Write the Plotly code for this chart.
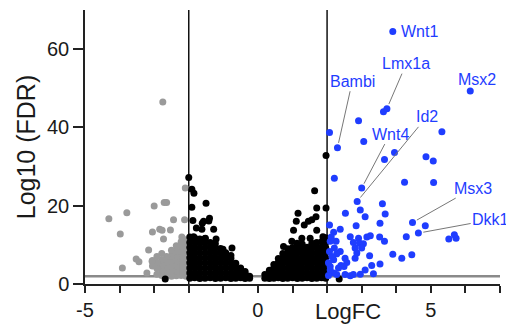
import plotly.graph_objects as go

# ---------------- data ----------------
# non-significant genes (black)
ns_x = [
    # left wedge
    -1.97,-1.97,-1.97,-1.97,-1.97,-1.97,-1.97,-1.97,-1.97,
    -1.83,-1.83,-1.83,-1.83,-1.83,-1.83,-1.83,-1.83,-1.83,
    -1.68,-1.68,-1.68,-1.68,-1.68,-1.68,-1.68,-1.68,-1.68,
    -1.53,-1.53,-1.53,-1.53,-1.53,-1.53,-1.53,-1.53,-1.53,
    -1.38,-1.38,-1.38,-1.38,-1.38,-1.38,-1.38,-1.38,
    -1.23,-1.23,-1.23,-1.23,-1.23,-1.23,-1.23,-1.23,
    -1.08,-1.08,-1.08,-1.08,-1.08,-1.08,-1.08,
    -0.93,-0.93,-0.93,-0.93,-0.93,-0.93,
    -0.78,-0.78,-0.78,-0.78,-0.78,-0.78,
    -0.64,-0.64,-0.64,-0.64,
    -0.50,-0.50,-0.50,
    -0.37,-0.37,-0.37,
    -0.24,-0.24,
    # left outliers
    -2.00,-1.91,-1.85,-1.50,-1.91,-1.88,-1.61,-1.57,-1.40,-1.42,-1.78,-1.62,-1.28,
    -1.86,-1.52,-1.21,-1.01,-0.75,-2.68,
    # right wedge
    0.20,0.20,
    0.33,0.33,0.33,
    0.46,0.46,0.46,0.46,
    0.59,0.59,0.59,0.59,0.59,
    0.72,0.72,0.72,0.72,0.72,0.72,
    0.86,0.86,0.86,0.86,0.86,0.86,0.86,
    1.00,1.00,1.00,1.00,1.00,1.00,1.00,
    1.14,1.14,1.14,1.14,1.14,1.14,1.14,
    1.28,1.28,1.28,1.28,1.28,1.28,1.28,1.28,
    1.42,1.42,1.42,1.42,1.42,1.42,1.42,
    1.56,1.56,1.56,1.56,1.56,1.56,1.56,1.56,
    1.70,1.70,1.70,1.70,1.70,1.70,1.70,1.70,
    1.84,1.84,1.84,1.84,1.84,1.84,1.84,1.84,
    1.96,1.96,1.96,1.96,1.96,1.96,1.96,1.96,1.96,
    # right outliers
    1.97,1.64,1.97,1.16,1.70,1.68,1.56,1.46,1.34,1.11,1.03,1.70,1.27,1.51,1.88,
    0.98,1.13,0.74,2.35,
]
ns_y = [
    1.5,2.8,4.1,5.4,6.7,8.0,9.3,10.6,12.0,
    1.6,2.9,4.2,5.5,6.8,8.1,9.4,10.7,11.8,
    1.4,2.7,4.0,5.3,6.6,7.9,9.2,10.5,11.5,
    1.5,2.8,4.1,5.4,6.7,8.0,9.3,10.6,11.6,
    1.6,2.9,4.2,5.5,6.8,8.1,9.4,10.6,
    1.4,2.7,4.0,5.3,6.6,7.9,9.2,10.3,
    1.5,2.8,4.1,5.4,6.7,8.0,9.1,
    1.6,2.9,4.2,5.5,6.8,8.0,
    1.4,2.7,4.0,5.3,6.5,7.3,
    1.5,2.8,4.1,5.3,
    1.6,2.9,4.1,
    1.4,2.6,3.2,
    1.5,2.0,
    27.2,24.2,23.2,20.6,19.6,16.2,15.5,16.0,16.8,16.1,14.3,14.0,14.0,
    12.1,11.7,11.5,8.9,9.2,1.3,
    1.5,2.4,
    1.4,2.7,3.5,
    1.5,2.8,4.1,5.0,
    1.6,2.9,4.2,5.5,6.5,
    1.4,2.7,4.0,5.3,6.6,7.8,
    1.5,2.8,4.1,5.4,6.7,8.0,9.0,
    1.6,2.9,4.2,5.5,6.8,8.1,9.3,
    1.4,2.7,4.0,5.3,6.6,7.9,9.2,
    1.5,2.8,4.1,5.4,6.7,8.0,9.3,10.2,
    1.6,2.9,4.2,5.5,6.8,8.1,9.4,
    1.4,2.7,4.0,5.3,6.6,7.9,9.2,10.4,
    1.5,2.8,4.1,5.4,6.7,8.0,9.3,10.6,
    1.6,2.9,4.2,5.5,6.8,8.1,9.4,10.8,
    1.5,2.8,4.1,5.4,6.7,8.0,9.3,10.6,11.8,
    32.8,23.8,19.4,18.1,19.4,17.2,16.4,16.0,15.1,16.0,13.7,13.7,11.7,11.7,12.1,
    10.9,10.4,9.6,1.3,
]

# down-regulated genes (grey)
down_x = [
    -2.75,-2.10,-3.00,-2.71,-2.64,-3.79,-4.31,-2.44,-2.12,-3.98,-3.05,-2.84,-2.77,-2.53,
    -2.20,-2.10,-2.73,-3.16,-3.52,-3.44,-3.92,-3.21,-3.06,
    -2.08,-2.08,-2.08,-2.08,-2.08,-2.08,-2.08,-2.08,
    -2.22,-2.22,-2.22,-2.22,-2.22,-2.22,-2.22,-2.22,
    -2.36,-2.36,-2.36,-2.36,-2.36,-2.36,-2.36,
    -2.50,-2.50,-2.50,-2.50,-2.50,-2.50,
    -2.64,-2.64,-2.64,-2.64,-2.64,
    -2.78,-2.78,-2.78,-2.78,-2.78,
    -2.92,-2.92,-2.92,-2.92,
    -3.05,-3.05,
]
down_y = [
    46.5,24.5,19.9,20.8,20.8,18.2,16.7,16.4,16.4,12.8,13.3,14.0,13.7,13.8,
    12.0,11.3,11.5,8.7,6.4,5.7,4.1,2.8,5.8,
    2.0,3.3,4.6,5.9,7.2,8.5,9.8,11.0,
    2.2,3.1,4.4,5.7,7.0,8.3,9.6,10.8,
    2.1,3.2,4.5,5.8,7.1,8.4,9.8,
    2.0,3.3,4.6,5.9,7.2,8.6,
    2.3,3.1,4.4,5.7,7.0,
    2.2,3.5,4.8,6.2,7.8,
    2.5,4.0,5.5,7.0,
    4.6,6.0,
]

# up-regulated genes (blue)
up_x = [
    3.63,2.91,2.07,5.32,3.06,3.95,3.66,4.86,5.07,2.21,4.24,5.08,2.96,3.60,2.53,3.10,3.68,
    4.84,4.29,5.68,5.73,5.52,3.90,4.16,4.45,2.84,2.07,3.53,2.38,2.19,2.67,2.91,3.15,3.25,
    3.52,3.66,2.26,2.76,2.94,3.05,2.09,2.81,3.00,2.38,2.28,3.23,2.81,2.86,2.52,2.57,3.53,
    2.19,2.09,2.40,2.49,3.10,3.29,3.34,2.96,2.52,2.67,2.76,2.28,2.19,2.09,2.14,2.21,2.07,
    2.33,2.04,2.04,2.12,
]
up_y = [
    44.0,41.7,38.7,38.9,36.4,33.6,31.8,32.5,31.4,27.0,26.0,25.9,18.9,20.5,18.1,17.2,17.9,
    14.9,12.1,12.6,11.7,11.5,7.6,6.6,7.5,14.9,15.1,15.5,14.0,13.2,12.1,11.7,12.0,12.3,
    12.0,10.9,10.9,10.6,10.4,10.3,10.9,9.2,9.2,8.3,7.7,7.2,6.6,7.9,6.6,5.5,5.1,
    6.2,4.5,4.7,4.5,3.6,4.7,2.6,2.5,2.4,2.1,2.4,2.4,2.8,3.6,7.0,9.2,8.3,
    4.1,5.4,2.2,12.0,
]

# labelled genes
gene_names = ["Wnt1", "Msx2", "Lmx1a", "Bambi", "Id2", "Wnt4", "Msx3", "Dkk1"]
gene_x = [3.90, 6.14, 3.73, 2.30, 2.87, 3.00, 4.47, 4.64]
gene_y = [64.5, 49.3, 44.8, 34.8, 21.1, 24.5, 15.7, 13.0]
label_x = [4.08, 6.33, 4.29, 2.73, 4.88, 3.82, 6.23, 6.73]
label_y = [64.5, 52.3, 56.3, 51.8, 42.7, 38.3, 24.5, 16.4]
leader = [False, False, True, True, True, True, True, True]

x_ticks = [-5, 0, 5]
y_ticks = [0, 20, 40, 60]
fc_cut = 2
fdr_cut = 2

BLUE = "#1f3dff"
GREY = "#9a9a9a"
FONT = "Liberation Sans, Arial, sans-serif"

fig = go.Figure()
fig.add_trace(go.Scatter(x=down_x, y=down_y, mode="markers",
                         marker=dict(color=GREY, size=7), hoverinfo="skip"))
fig.add_trace(go.Scatter(x=ns_x, y=ns_y, mode="markers",
                         marker=dict(color="black", size=7), hoverinfo="skip"))
fig.add_trace(go.Scatter(x=up_x + gene_x, y=up_y + gene_y, mode="markers",
                         marker=dict(color=BLUE, size=7), hoverinfo="skip"))

# threshold lines
fig.add_shape(type="line", xref="x", yref="y", x0=-5, x1=7, y0=fdr_cut, y1=fdr_cut,
              line=dict(color="#8a8a8a", width=2.5), layer="below")
for xv in (-fc_cut, fc_cut):
    fig.add_shape(type="line", xref="x", yref="y", x0=xv, x1=xv, y0=0, y1=70,
                  line=dict(color="#111", width=1.5), layer="below")

for n, gx, gy, lx, ly, ld in zip(gene_names, gene_x, gene_y, label_x, label_y, leader):
    if ld:
        fig.add_annotation(x=gx, y=gy, ax=lx, ay=ly, axref="x", ayref="y", text=n,
                           showarrow=True, arrowhead=0, arrowwidth=1, arrowcolor="#777",
                           standoff=5, font=dict(family=FONT, size=16, color=BLUE))
    else:
        fig.add_annotation(x=lx, y=ly, text=n, showarrow=False,
                           xanchor="left" if n == "Wnt1" else "center",
                           font=dict(family=FONT, size=16, color=BLUE))

fig.add_annotation(x=2.6, y=0, xref="x", yref="paper", yanchor="middle", yshift=-27,
                   text="LogFC", showarrow=False, font=dict(family=FONT, size=22, color="#1a1a1a"))

# the page body adds an 8px offset, so the figure is sized to fit the 514x325 window
fig.update_layout(
    width=506, height=317,
    margin=dict(l=77, r=14, t=2, b=41),
    paper_bgcolor="white", plot_bgcolor="white",
    showlegend=False,
    font=dict(family=FONT, color="#1a1a1a"),
    xaxis=dict(range=[-5, 7], tickvals=x_ticks, ticktext=[str(v) for v in x_ticks],
               ticks="outside", ticklen=7, tickwidth=1.5, tickcolor="#222",
               showline=True, linewidth=1.5, linecolor="#222", automargin=False,
               showgrid=False, zeroline=False, tickfont=dict(size=20),
               minor=dict(dtick=1, tick0=-5, ticks="outside", ticklen=7, tickwidth=1.5,
                          tickcolor="#222", showgrid=False)),
    yaxis=dict(range=[0, 70], tickvals=y_ticks, ticks="outside", ticklen=10, tickwidth=1.5,
               tickcolor="#222", showline=True, linewidth=1.5, linecolor="#222",
               automargin=False,
               showgrid=False, zeroline=False, tickfont=dict(size=20),
               title=dict(text="Log10 (FDR)", font=dict(size=25), standoff=4)),
)

fig.write_html("out.html")
